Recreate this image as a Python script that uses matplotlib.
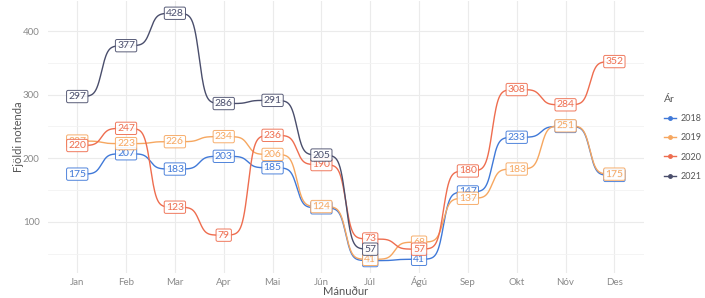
import numpy as np
import matplotlib
matplotlib.use("Agg")
import matplotlib.pyplot as plt
from matplotlib.lines import Line2D

plt.rcParams['font.family'] = ['Lato', 'DejaVu Sans']

months = ["Jan", "Feb", "Mar", "Apr", "Mai", "Jún", "Júl", "Ágú", "Sep", "Okt", "Nóv", "Des"]
years = ["2018", "2019", "2020", "2021"]
v2018 = [175, 207, 183, 203, 185, 122, 39, 41, 147, 233, 250, 173]
v2019 = [227, 223, 226, 234, 206, 124, 41, 68, 137, 183, 251, 175]
v2020 = [220, 247, 123, 79, 236, 190, 73, 57, 180, 308, 284, 352]
v2021 = [297, 377, 428, 286, 291, 205, 57]
series = [v2018, v2019, v2020, v2021]
colors = ["#4079D8", "#F6A760", "#EE6D4F", "#4A4E6C"]


def sigmoid_path(xs, ys, smooth=8, n=100):
    px, py = [], []
    t = np.linspace(-smooth, smooth, n)
    s = np.exp(t) / (np.exp(t) + 1)
    s = (s - s.min()) / (s.max() - s.min())
    for i in range(len(xs) - 1):
        x = np.linspace(xs[i], xs[i + 1], n)
        y = ys[i] + (ys[i + 1] - ys[i]) * s
        px.extend(x)
        py.extend(y)
    return px, py


fig = plt.figure(figsize=(7.05, 2.98), dpi=100)
ax = fig.add_axes([0.068, 0.084, 0.845, 0.913])

for vals, c in zip(series, colors):
    xs = np.arange(len(vals))
    px, py = sigmoid_path(xs, vals)
    ax.plot(px, py, color=c, lw=1.0, zorder=2, solid_capstyle='round')

for vals, c in zip(series, colors):
    for i, v in enumerate(vals):
        ax.text(i, v, str(v), ha='center', va='center', fontsize=7.5, color=c, zorder=3,
                bbox=dict(boxstyle='round,pad=0.16,rounding_size=0.15', fc='white', ec=c, lw=0.7, alpha=0.92))

all_vals = [v for s in series for v in s]
lo, hi = min(all_vals), max(all_vals)
pad = (hi - lo) * 0.05
ax.set_ylim(lo - pad, hi + pad)
ax.set_xlim(-0.6, len(months) - 1 + 0.6)
ax.set_xticks(range(len(months)))
ax.set_xticklabels(months)
ax.set_yticks([100, 200, 300, 400])
ax.set_yticks([50, 150, 250, 350], minor=True)
ax.tick_params(axis='both', which='both', length=0, labelsize=7, colors='#8a8a8a', pad=6)
ax.tick_params(axis='x', pad=9)
for lab in ax.get_xticklabels():
    lab.set_va('baseline')
ax.grid(True, which='major', color='#ebebeb', lw=0.8)
ax.grid(True, which='minor', color='#f3f3f3', lw=0.6)
ax.set_axisbelow(True)
for sp in ax.spines.values():
    sp.set_visible(False)
ax.set_xlabel("Mánuður", fontsize=8, color='#555555', va='bottom')
ax.xaxis.set_label_coords(0.5, -0.09)
ax.set_ylabel("Fjöldi notenda", fontsize=8, color='#555555', va='center')
ax.yaxis.set_label_coords(-0.05, 0.5)

handles = [Line2D([0], [0], color=c, lw=1.0, marker='o', markersize=2.5) for c in colors]
leg = fig.legend(handles, years, title="Ár", loc='upper left', bbox_to_anchor=(0.937, 0.695),
                 frameon=False, fontsize=6.5, title_fontsize=7.5, handlelength=1.3,
                 handletextpad=0.5, labelspacing=1.15, alignment='left', borderaxespad=0)
for t in leg.get_texts():
    t.set_color('#555555')
leg.get_title().set_color('#555555')

fig.savefig("out.png", dpi=100)
